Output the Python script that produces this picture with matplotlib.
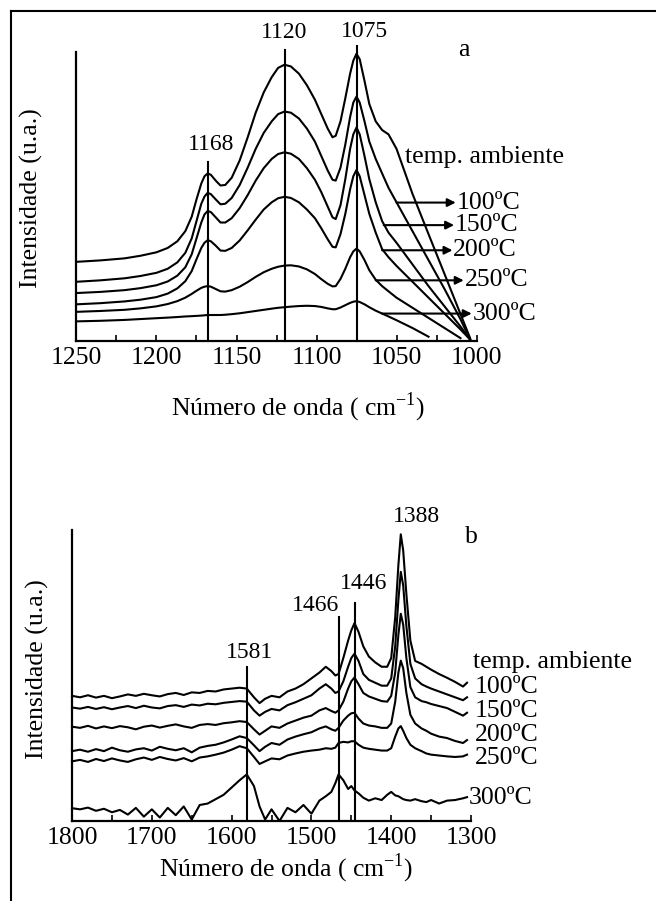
import numpy as np
import matplotlib
matplotlib.use("Agg")
import matplotlib.pyplot as plt
from matplotlib.lines import Line2D

plt.rcParams["font.family"] = ["Liberation Serif", "DejaVu Serif"]
plt.rcParams["mathtext.fontset"] = "custom"
plt.rcParams["mathtext.rm"] = "Liberation Serif"

# -----------------------------
# Panel a data (1250-1000 cm-1)
# -----------------------------
wn_a = [1250, 1235, 1220, 1210, 1200, 1193, 1187, 1182, 1178, 1175, 1172, 1170, 1168, 1166,
        1163, 1160, 1157, 1153, 1148, 1143, 1138, 1133, 1128, 1124, 1120, 1116, 1111, 1106,
        1101, 1097, 1093, 1090, 1088, 1085, 1082, 1079, 1077, 1075, 1073, 1070, 1067, 1063,
        1059, 1055, 1050, 1040, 1030, 1020, 1010, 1004]
a_rt = [.274, .279, .286, .295, .307, .322, .345, .380, .430, .490, .545, .570, .580, .575,
        .555, .538, .540, .565, .625, .705, .790, .860, .913, .945, .956, .950, .925, .885,
        .835, .785, .735, .705, .710, .760, .840, .925, .970, .994, .975, .900, .820, .760,
        .730, .715, .665, .509, .370, .232, .093, .010]
a_100 = [.205, .210, .217, .225, .236, .250, .272, .305, .355, .415, .475, .500, .513, .508,
         .490, .473, .475, .495, .540, .600, .665, .720, .760, .785, .794, .790, .770, .735,
         .690, .640, .590, .558, .555, .600, .680, .775, .825, .846, .825, .760, .690, .630,
         .580, .530, .480, .380, .280, .180, .075, .005]
a_150 = [.166, .170, .176, .183, .193, .206, .226, .255, .300, .355, .410, .438, .450, .446,
         .428, .410, .410, .425, .460, .505, .555, .598, .630, .647, .653, .648, .630, .598,
         .558, .515, .465, .428, .422, .470, .560, .665, .715, .739, .715, .640, .560, .480,
         .415, .375, .340, .265, .190, .120, .050, .005]
a_200 = [.127, .131, .137, .143, .152, .164, .182, .207, .242, .283, .322, .340, .349, .345,
         .330, .313, .312, .322, .348, .383, .420, .455, .480, .494, .499, .495, .480, .455,
         .425, .390, .352, .326, .324, .370, .440, .525, .570, .592, .570, .505, .440, .375,
         .318, .290, .260, .205, .150, .095, .040, .005]
a_250 = [.101, .104, .108, .113, .120, .128, .138, .150, .163, .174, .184, .188, .190, .188,
         .180, .172, .171, .176, .188, .204, .222, .238, .250, .257, .261, .262, .258, .248,
         .232, .214, .198, .189, .190, .215, .250, .290, .310, .320, .310, .280, .245, .212,
         .190, .172, .150, .115, .080, .045, .010, np.nan]
a_300 = [.068, .070, .073, .076, .079, .081, .083, .085, .086, .087, .088, .089, .090, .090,
         .090, .090, .091, .093, .096, .100, .104, .108, .112, .115, .117, .119, .121, .122,
         .121, .118, .113, .110, .110, .116, .124, .132, .136, .138, .135, .127, .117, .105,
         .095, .085, .072, .045, .015, np.nan, np.nan, np.nan]

peaks_a = [1168, 1120, 1075]
peak_tops_a = [0.621, 1.008, 1.020]
peak_label_pos_a = [(1166, 0.679), (1120, 1.066), (1070, 1.072)]

labels = ["temp. ambiente", "100ºC", "150ºC", "200ºC", "250ºC", "300ºC"]
# arrows of panel a: start x, end x, height
arrow_start_a = [1050, 1058, 1059, 1063, 1059]
arrow_end_a = [1013, 1014, 1015, 1008, 1003]
arrow_y_a = [0.479, 0.401, 0.314, 0.210, 0.095]

# -----------------------------
# Panel b data (1800-1300 cm-1)
# -----------------------------
wn_b = [1800, 1790, 1780, 1770, 1760, 1750, 1740, 1730, 1720, 1710, 1700, 1690, 1680, 1670,
        1660, 1650, 1640, 1630, 1620, 1610, 1600, 1590, 1581, 1572, 1565, 1558, 1550, 1540,
        1530, 1520, 1510, 1500, 1490, 1482, 1475, 1470, 1466, 1460, 1454, 1450, 1446, 1441,
        1435, 1428, 1420, 1412, 1405, 1400, 1395, 1391, 1388, 1385, 1381, 1376, 1370, 1362,
        1356, 1350, 1340, 1330, 1320, 1310, 1305]
b_rt = [.430, .425, .432, .424, .430, .422, .428, .435, .430, .437, .432, .428, .436, .440,
        .433, .442, .440, .447, .445, .452, .455, .458, .455, .425, .405, .420, .430, .425,
        .445, .455, .470, .490, .510, .530, .515, .500, .505, .560, .620, .655, .680, .650,
        .600, .565, .545, .530, .530, .560, .700, .880, .985, .930, .780, .620, .550, .540,
        .530, .520, .505, .492, .478, .462, .475]
b_100 = [.390, .386, .392, .385, .391, .384, .390, .395, .388, .396, .390, .387, .395, .398,
         .392, .400, .397, .403, .401, .406, .409, .412, .410, .380, .362, .375, .385, .380,
         .398, .408, .420, .432, .455, .470, .455, .440, .445, .480, .530, .560, .575, .550,
         .505, .485, .475, .465, .465, .490, .600, .760, .856, .810, .670, .540, .490, .470,
         .462, .455, .445, .435, .425, .415, .425]
b_150 = [.324, .320, .327, .318, .325, .319, .326, .322, .315, .324, .328, .321, .327, .332,
         .325, .320, .330, .333, .330, .336, .339, .343, .340, .315, .297, .310, .325, .320,
         .335, .345, .355, .362, .380, .388, .378, .372, .380, .410, .455, .480, .493, .470,
         .440, .428, .420, .412, .410, .430, .510, .640, .712, .675, .560, .460, .425, .412,
         .408, .402, .395, .388, .375, .362, .372]
b_200 = [.240, .245, .238, .247, .240, .252, .243, .238, .246, .250, .242, .255, .248, .243,
         .250, .236, .252, .258, .262, .270, .280, .291, .285, .260, .240, .255, .268, .262,
         .280, .290, .298, .305, .318, .325, .315, .310, .320, .345, .362, .370, .372, .352,
         .335, .328, .325, .320, .320, .335, .410, .510, .551, .525, .440, .365, .335, .318,
         .310, .300, .290, .285, .275, .268, .278]
b_250 = [.205, .210, .203, .213, .206, .215, .208, .203, .212, .218, .210, .220, .213, .208,
         .216, .205, .218, .222, .228, .235, .245, .257, .250, .220, .196, .205, .215, .212,
         .225, .232, .238, .242, .245, .250, .248, .252, .268, .272, .270, .274, .274, .262,
         .252, .248, .245, .242, .242, .250, .290, .318, .326, .310, .285, .262, .250, .240,
         .232, .228, .225, .222, .220, .222, .228]
b_300 = [.044, .040, .046, .035, .042, .030, .038, .022, .045, .015, .040, .012, .045, .020,
         .050, .005, .055, .060, .075, .090, .115, .140, .160, .120, .050, .005, .040, .000,
         .045, .030, .055, .025, .070, .085, .100, .130, .160, .140, .110, .120, .105, .095,
         .080, .070, .078, .072, .090, .100, .088, .085, .080, .075, .072, .070, .075, .068,
         .065, .072, .060, .070, .072, .078, .082]

peaks_b = [1581, 1466, 1446]
peak_tops_b = [0.528, 0.700, 0.750]
peak_labels_b = ["1581", "1466", "1446", "1388"]
peak_label_pos_b = [(1577, 0.579), (1495, 0.741), (1434, 0.816), (1368, 1.046)]
label_pos_b = [(1297, 0.545), (1295, 0.459), (1295, 0.378), (1295, 0.297), (1295, 0.217),
               (1303, 0.078)]

# -----------------------------
# Figure
# -----------------------------
fig = plt.figure(figsize=(6.56, 9.01), dpi=100)
fs = 18.5
lw = 1.5


def style_axis(ax, xmin, xmax, ticks, minor):
    ax.set_xlim(xmin, xmax)
    ax.set_ylim(0, 1)
    ax.spines["top"].set_visible(False)
    ax.spines["right"].set_visible(False)
    ax.spines["left"].set_linewidth(1.6)
    ax.spines["bottom"].set_linewidth(1.6)
    ax.set_yticks([])
    ax.set_xticks(ticks)
    ax.set_xticks(minor, minor=True)
    ax.tick_params(axis="x", which="both", direction="in", length=4, width=1.2,
                   labelsize=fs, pad=4)


# ---- panel a ----
ax1 = fig.add_axes([0.1166, 0.6215, 0.6098, 0.3208])
style_axis(ax1, 1250, 1000, [1250, 1200, 1150, 1100, 1050, 1000],
           [1225, 1175, 1125, 1075, 1025])
for ys in [a_rt, a_100, a_150, a_200, a_250, a_300]:
    ax1.plot(wn_a, ys, color="black", lw=lw)
for p, top in zip(peaks_a, peak_tops_a):
    ax1.plot([p, p], [0, top], color="black", lw=lw, clip_on=False)
for p, (px, py) in zip(peaks_a, peak_label_pos_a):
    ax1.text(px, py, str(p), fontsize=17, ha="center", va="center")
ax1.text(1008, 1.008, "a", fontsize=fs, ha="center", va="center")
ax1.text(1045, 0.638, labels[0], fontsize=fs, ha="left", va="center", clip_on=False)
for x0, x1, y, lab in zip(arrow_start_a, arrow_end_a, arrow_y_a, labels[1:]):
    ax1.annotate("", xy=(x1, y), xytext=(x0, y),
                 arrowprops=dict(arrowstyle="-|>", color="black", lw=lw, mutation_scale=12,
                                 shrinkA=0, shrinkB=0))
    ax1.text(x1 - 0.5, y, lab, fontsize=fs, ha="left", va="center", clip_on=False)

# ---- panel b ----
ax2 = fig.add_axes([0.1098, 0.0888, 0.6082, 0.3230])
style_axis(ax2, 1800, 1300, [1800, 1700, 1600, 1500, 1400, 1300],
           [1750, 1650, 1550, 1450, 1350])
for ys in [b_rt, b_100, b_150, b_200, b_250, b_300]:
    ax2.plot(wn_b, ys, color="black", lw=lw, clip_on=False)
for p, top in zip(peaks_b, peak_tops_b):
    ax2.plot([p, p], [0, top], color="black", lw=lw)
for lab, (px, py) in zip(peak_labels_b, peak_label_pos_b):
    ax2.text(px, py, lab, fontsize=17, ha="center", va="center", clip_on=False)
ax2.text(1300, 0.977, "b", fontsize=fs, ha="center", va="center")
for lab, (px, py) in zip(labels, label_pos_b):
    ax2.text(px, py, lab, fontsize=fs, ha="left", va="center", clip_on=False)

# axis titles
xlab = "Número de onda ( cm$^{\\mathregular{-1}}$)"
fig.text(31 / 656, 1 - 198 / 901, "Intensidade (u.a.)", rotation=90, fontsize=fs,
         ha="center", va="center")
fig.text(37 / 656, 1 - 669 / 901, "Intensidade (u.a.)", rotation=90, fontsize=fs,
         ha="center", va="center")
fig.text(298 / 656, 1 - 407 / 901, xlab, fontsize=fs, ha="center", va="center")
fig.text(286 / 656, 1 - 868 / 901, xlab, fontsize=fs, ha="center", va="center")

# frame lines (left and top)
fig.add_artist(Line2D([11 / 656, 11 / 656], [0, 1 - 11 / 901], color="black", lw=1.5))
fig.add_artist(Line2D([11 / 656, 1], [1 - 11 / 901, 1 - 11 / 901], color="black", lw=1.5))

fig.savefig("out.png", dpi=100)
